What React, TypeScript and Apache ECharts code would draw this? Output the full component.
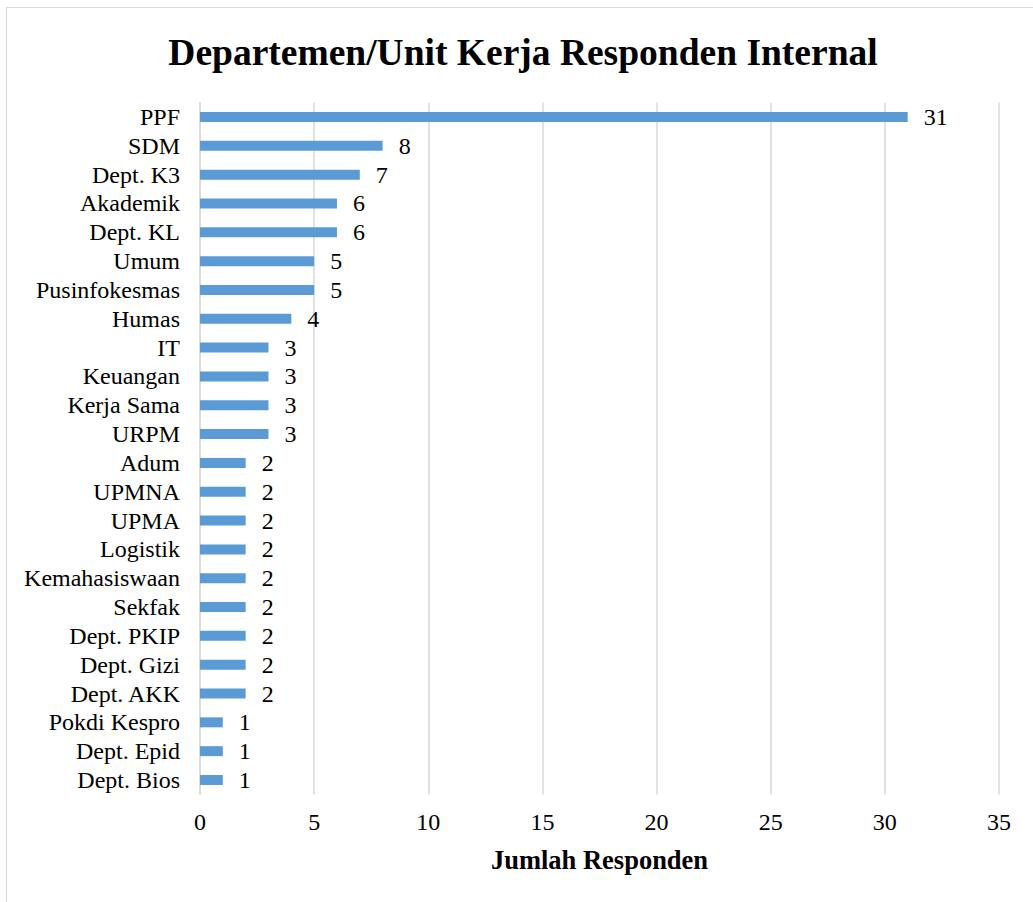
import React, { useEffect, useRef } from "react";
import * as echarts from "echarts";

const categories = [
  "PPF", "SDM", "Dept. K3", "Akademik", "Dept. KL", "Umum", "Pusinfokesmas", "Humas",
  "IT", "Keuangan", "Kerja Sama", "URPM", "Adum", "UPMNA", "UPMA", "Logistik",
  "Kemahasiswaan", "Sekfak", "Dept. PKIP", "Dept. Gizi", "Dept. AKK", "Pokdi Kespro",
  "Dept. Epid", "Dept. Bios",
];
const values = [31, 8, 7, 6, 6, 5, 5, 4, 3, 3, 3, 3, 2, 2, 2, 2, 2, 2, 2, 2, 2, 1, 1, 1];
const xTicks = { min: 0, max: 35, interval: 5 };

const FONT = "'Liberation Serif', 'Times New Roman', serif";

export default function App() {
  const ref = useRef<HTMLDivElement>(null);
  useEffect(() => {
    if (!ref.current) return;
    const chart = echarts.init(ref.current, null, { renderer: "svg" });
    chart.setOption({
      animation: false,
      backgroundColor: "#ffffff",
      textStyle: { fontFamily: FONT },
      title: {
        text: "Departemen/Unit Kerja Responden Internal",
        left: 518,
        top: 28,
        textAlign: "center",
        textStyle: { fontFamily: FONT, fontSize: 37.5, fontWeight: "bold", color: "#000" },
      },
      graphic: [
        {
          type: "rect",
          shape: { x: 6.5, y: 7.5, width: 1100, height: 1000 },
          style: { fill: "none", stroke: "#d9d9d9", lineWidth: 1 },
          silent: true,
        },
      ],
      grid: { left: 200, right: 34, top: 102.6, bottom: 107.6, containLabel: false },
      xAxis: {
        type: "value",
        min: xTicks.min,
        max: xTicks.max,
        interval: xTicks.interval,
        name: "Jumlah Responden",
        nameLocation: "middle",
        nameGap: 52,
        nameTextStyle: { fontFamily: FONT, fontSize: 26.5, fontWeight: "bold", color: "#000", verticalAlign: "top" },
        axisLine: { show: false },
        axisTick: { show: false },
        axisLabel: { fontFamily: FONT, fontSize: 24, color: "#000", margin: 16 },
        splitLine: { show: true, lineStyle: { color: "#d9d9d9", width: 1.5 } },
      },
      yAxis: {
        type: "category",
        data: categories,
        inverse: true,
        axisLine: { show: true, lineStyle: { color: "#d9d9d9", width: 1.5 } },
        axisTick: { show: false },
        axisLabel: { fontFamily: FONT, fontSize: 24, color: "#000", margin: 20, interval: 0, hideOverlap: false },
      },
      series: [
        {
          type: "bar",
          data: values,
          barWidth: 10,
          itemStyle: { color: "#5b9bd5" },
          label: {
            show: true,
            position: "right",
            distance: 16,
            fontFamily: FONT,
            fontSize: 24,
            color: "#000",
          },
        },
      ],
    });
    return () => chart.dispose();
  }, []);
  return (
    <div
      ref={ref}
      style={{ position: "fixed", left: 0, top: 0, width: 1033, height: 902 }}
    />
  );
}
